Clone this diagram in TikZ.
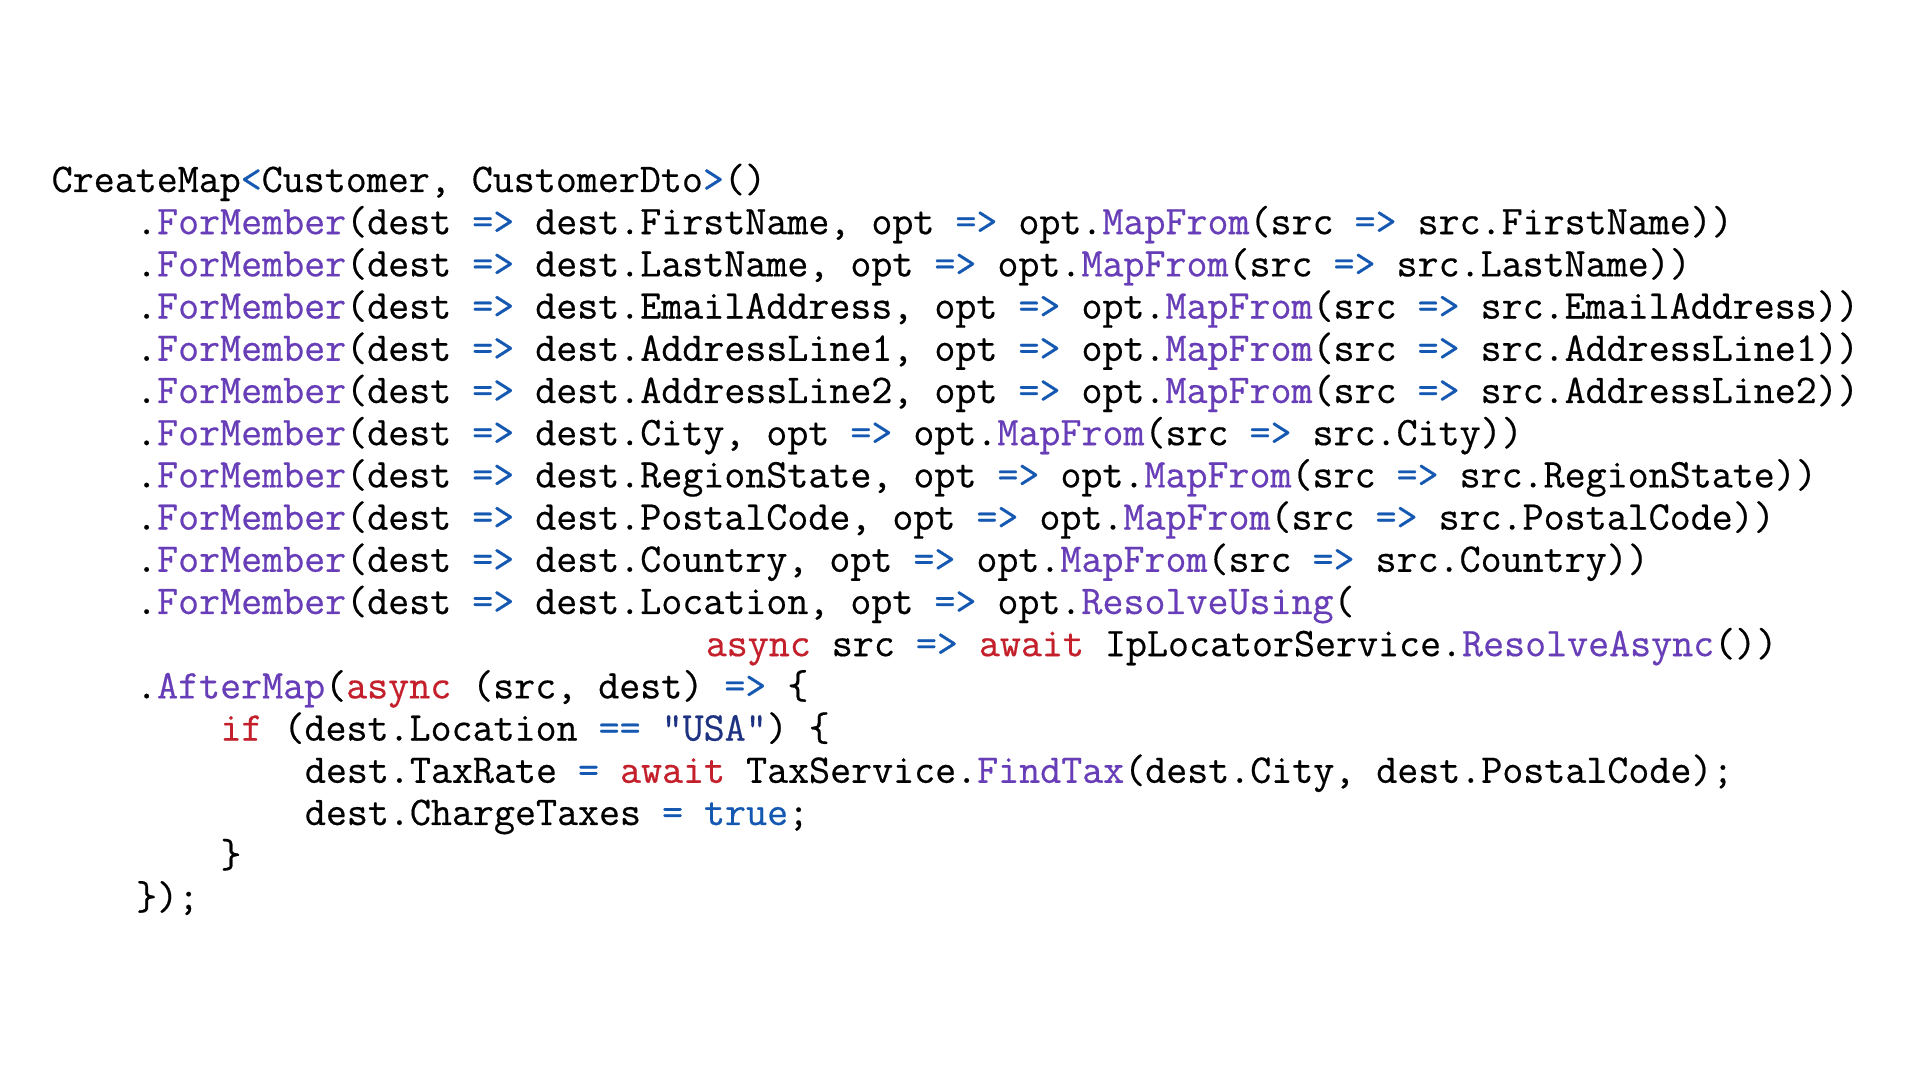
\documentclass[tikz,border=0pt]{standalone}
\usepackage{fontspec}
\setmonofont{Latin Modern Mono}[FakeBold=0.45]
\usepackage{tikz}
\definecolor{kwred}{RGB}{196,32,44}
\definecolor{opblue}{RGB}{20,88,178}
\definecolor{fnpurple}{RGB}{104,62,184}
\definecolor{strblue}{RGB}{30,50,130}
\newcommand{\kw}[1]{\textcolor{kwred}{#1}}
\newcommand{\op}[1]{\textcolor{opblue}{#1}}
\newcommand{\fn}[1]{\textcolor{fnpurple}{#1}}
\newcommand{\str}[1]{\textcolor{strblue}{#1}}

\begin{document}
\begin{tikzpicture}[x=0.01cm,y=-0.01cm,
    codeline/.style={anchor=base west, inner sep=0pt, font=\ttfamily\fontsize{11.6}{12}\selectfont}]
    \useasboundingbox (0,0) rectangle (1920,1080);
    % column c, line i: (51+21.1*c, 192+42.2*(i-1))
    \node[codeline] (l1) at (51,192) {CreateMap\op{<}Customer, CustomerDto\op{>}()};
    % plain member mappings
    \foreach \f [count=\i from 2] in {FirstName,LastName,EmailAddress,AddressLine1,AddressLine2,City,RegionState,PostalCode,Country} {
        \node[codeline] (l\i) at ({51+4*21.1},{192+42.2*(\i-1)}) {.\fn{ForMember}(dest \op{=>} dest.\f, opt \op{=>} opt.\fn{MapFrom}(src \op{=>} src.\f))};
    }
    % resolver
    \node[codeline] (l11) at ({51+4*21.1},{192+42.2*10}) {.\fn{ForMember}(dest \op{=>} dest.Location, opt \op{=>} opt.\fn{ResolveUsing}(};
    \node[codeline] (l12) at ({51+31*21.1},{192+42.2*11}) {\kw{async} src \op{=>} \kw{await} IpLocatorService.\fn{ResolveAsync}())};
    % after map block
    \node[codeline] (l13) at ({51+4*21.1},{192+42.2*12}) {.\fn{AfterMap}(\kw{async} (src, dest) \op{=>} \{};
    \node[codeline] (l14) at ({51+8*21.1},{192+42.2*13}) {\kw{if} (dest.Location \op{==} \str{"USA"}) \{};
    \node[codeline] (l15) at ({51+12*21.1},{192+42.2*14}) {dest.TaxRate \op{=} \kw{await} TaxService.\fn{FindTax}(dest.City, dest.PostalCode);};
    \node[codeline] (l16) at ({51+12*21.1},{192+42.2*15}) {dest.ChargeTaxes \op{=} \op{true};};
    \node[codeline] (l17) at ({51+8*21.1},{192+42.2*16}) {\}};
    \node[codeline] (l18) at ({51+4*21.1},{192+42.2*17}) {\});};
\end{tikzpicture}
\end{document}
